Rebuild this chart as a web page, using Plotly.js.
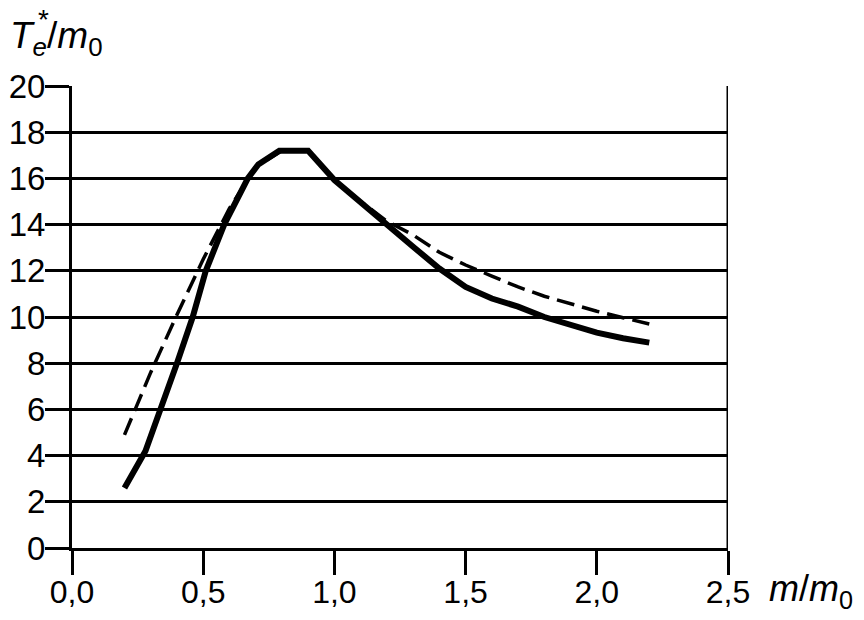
<!DOCTYPE html>
<html>
<head>
<meta charset="utf-8">
<script src="https://cdn.plot.ly/plotly-3.0.1.min.js"></script>
<style>html,body{margin:0;padding:0;background:#fff;}#chart{width:864px;height:620px;}</style>
</head>
<body>
<div id="chart"></div>
<script>
// Solid curve
var solidX = [0.2, 0.28, 0.4, 0.46, 0.51, 0.58, 0.67, 0.71, 0.79, 0.9, 1.0, 1.1, 1.2, 1.3, 1.4, 1.5, 1.6, 1.7, 1.8, 1.9, 2.0, 2.1, 2.2];
var solidY = [2.6, 4.2, 8.0, 10.0, 12.0, 14.0, 16.0, 16.6, 17.2, 17.2, 15.93, 14.95, 14.0, 13.04, 12.1, 11.3, 10.8, 10.45, 10.0, 9.65, 9.32, 9.08, 8.89];
// Dashed curve
var dashX = [0.2, 0.3, 0.4, 0.5, 0.6, 0.7, 0.8, 0.9, 1.0, 1.1, 1.2, 1.3, 1.4, 1.5, 1.6, 1.7, 1.8, 1.9, 2.0, 2.1, 2.2];
var dashY = [4.9, 7.6, 10.1, 12.5, 14.7, 16.5, 17.2, 17.2, 15.95, 15.0, 14.15, 13.55, 12.8, 12.25, 11.77, 11.3, 10.9, 10.57, 10.25, 9.97, 9.7];
// Tick labels
var xTickVals = [0, 0.5, 1.0, 1.5, 2.0, 2.5];
var xTickText = ["0,0", "0,5", "1,0", "1,5", "2,0", "2,5"];
var yTickVals = [0, 2, 4, 6, 8, 10, 12, 14, 16, 18, 20];

var font = "Liberation Sans, Arial, sans-serif";
var traces = [
  {x: dashX, y: dashY, mode: "lines", line: {color: "#000", width: 3.5, dash: "18px,8px"}, hoverinfo: "skip"},
  {x: solidX, y: solidY, mode: "lines", line: {color: "#000", width: 6}, hoverinfo: "skip"}
];
var layout = {
  width: 864, height: 620,
  margin: {l: 72, r: 136, t: 86, b: 72},
  paper_bgcolor: "#fff", plot_bgcolor: "#fff",
  showlegend: false,
  xaxis: {
    range: [0, 2.5], tickvals: xTickVals, ticktext: xTickText,
    ticks: "outside", ticklen: 24, tickwidth: 3, tickcolor: "#000",
    ticklabelstandoff: -10,
    showgrid: false, zeroline: false,
    showline: true, linecolor: "#000", linewidth: 3,
    tickfont: {family: font, size: 32, color: "#000"}
  },
  yaxis: {
    range: [0, 20], tickvals: yTickVals,
    ticks: "outside", ticklen: 24, tickwidth: 3, tickcolor: "#000",
    ticklabelstandoff: -7,
    showgrid: true, gridcolor: "#000", gridwidth: 3, zeroline: false,
    showline: true, linecolor: "#000", linewidth: 3,
    tickfont: {family: font, size: 33, color: "#000"}
  },
  shapes: [
    {type: "line", xref: "x", yref: "paper", x0: 2.5, x1: 2.5, y0: 0, y1: 1, line: {color: "#000", width: 3}}
  ],
  annotations: [
    {xref: "paper", yref: "paper", x: -0.097, y: 1.05, xanchor: "left", yanchor: "bottom", showarrow: false,
     text: "<i>T</i><sub><i>e</i></sub>/<i>m</i><sub>0</sub>", font: {family: font, size: 37, color: "#000"}},
    {xref: "paper", yref: "paper", x: -0.055, y: 1.145, xanchor: "left", yanchor: "middle", showarrow: false,
     text: "*", font: {family: font, size: 28, color: "#000"}},
    {xref: "paper", yref: "paper", x: 1.06, y: -0.04, xanchor: "left", yanchor: "top", showarrow: false,
     text: "<i>m</i>/<i>m</i><sub>0</sub>", font: {family: font, size: 36, color: "#000"}}
  ]
};
Plotly.newPlot("chart", traces, layout, {staticPlot: true});
</script>
</body>
</html>
